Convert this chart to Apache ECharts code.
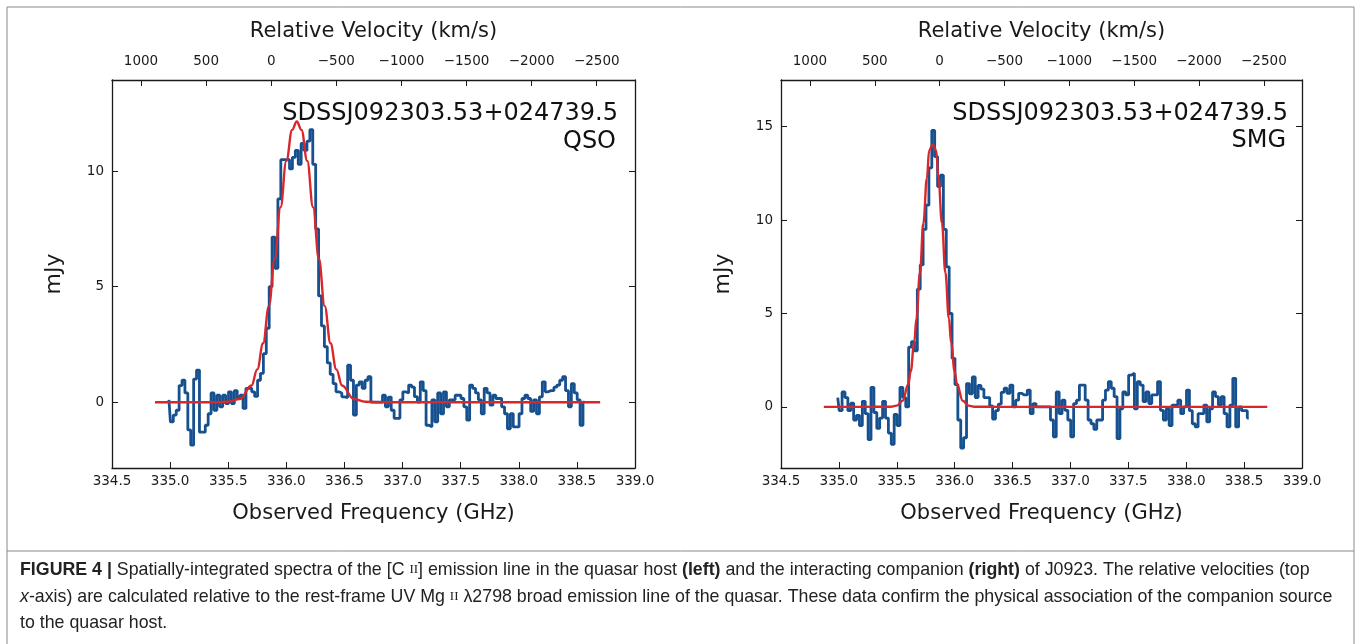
<!DOCTYPE html>
<html>
<head>
<meta charset="utf-8">
<script src="https://cdn.jsdelivr.net/npm/echarts@6/dist/echarts.min.js"></script>
<style>
  html, body { margin: 0; padding: 0; background: #fff; }
  #container { width: 1360px; height: 644px; }
</style>
</head>
<body>
<div id="container"></div>
<script>
// rest frequency of the velocity zero point (GHz) and speed of light (km/s)
const f0 = 335.87;
const cLight = 299792.458;

// channel grid of the spectra
const chanStart = 334.99;
const chanWidth = 0.025;

// QSO spectrum (mJy)
const qsoFlux = [
  0.1, -0.85, -0.56, -0.35, 0.72, 0.95, 0.4, -1.2, -1.86, 1.0,
  1.39, -1.3, -1.3, -1.0, -0.5, 0.4, -0.35, 0.3, -0.2, 0.3,
  -0.06, 0.45, -0.06, 0.5, 0.16, 0.3, -0.27, 0.6, 0.6, 0.45,
  0.25, 0.95, 1.25, 2.1, 3.2, 5.0, 7.15, 5.8, 8.8, 10.5,
  10.5, 10.5, 10.1, 10.6, 10.9, 10.3, 11.2, 10.9, 11.3, 11.8,
  10.3, 7.5, 4.6, 3.3, 2.4, 1.7, 1.2, 0.8, 0.45, 0.4,
  0.23, 0.2, 1.6, 0.95, -0.56, 0.74, 0.88, 0.6, 0.95, 1.1,
  0, 0, 0, 0, 0.3, -0.2, 0.22, -0.35, -0.7, -0.7,
  0.1, 0.45, 0.4, 0.74, 0.65, 0.24, 0, 0.88, 0.5, -1.0,
  -1.07, 0.1, -0.85, 0.4, -0.5, 0.45, -0.2, 0.1, 0.1, 0.3,
  0.3, 0.16, -0.2, -0.78, 0.74, 0.6, 0.4, 0.1, -0.5, 0.6,
  0.4, -0.13, 0.3, 0.16, 0.16, -0.2, -0.5, -1.15, -0.5, -1.07,
  -1.07, -0.5, 0.16, 0.3, 0.16, -0.4, 0.1, -0.5, 0.23, 0.88,
  0.45, 0.5, 0.5, 0.65, 0.74, 0.95, 1.1, 0.5, -0.2, 0.8,
  0.4, 0.1, -1.0, 0.0
];

// SMG spectrum (mJy)
const smgFlux = [
  0.5, -0.2, 0.8, 0.5, -0.2, 0.2, -0.7, -0.45, -1.0, 0.3,
  -0.36, -1.75, 1.05, -0.3, -1.15, -0.6, 0.3, -0.6, -1.4, -2.0,
  -0.4, -1.0, 1.05, 0.5, 0.0, 3.2, 3.5, 3.0, 6.3, 7.6,
  9.5, 10.8, 12.8, 14.8, 13.4, 11.8, 12.4, 9.5, 7.5, 5.0,
  2.6, 1.2, -0.7, -2.2, -1.65, 1.25, 0.7, 1.6, 0.5, 1.15,
  0.95, 0.5, 0.5, 0.05, -0.65, -0.2, 0.15, 0.78, 1.0, 0.73,
  1.17, 0.0, 0.36, 0.73, 0.64, 0.64, 0.9, -0.36, 0.18, 0,
  0, 0, 0, 0, -0.7, -1.6, 0.8, -0.36, 0.36, -0.18,
  -0.7, -1.6, 0.18, 0.36, 1.17, 1.17, 0.36, -0.7, -0.9, -1.2,
  -0.7, -0.7, 0.36, 0.9, 1.35, 1.0, 0.55, -1.7, -0.1, 0.8,
  0.64, 1.7, 1.8, -0.1, 1.35, 1.17, 0.29, 0.8, 0.18, 0.64,
  0.64, 1.35, -0.18, -0.7, -0.1, -1.0, 0.1, 0.1, 0.36, -0.36,
  0, 0.9, -0.2, -0.9, -1.07, -0.36, -0.36, 0.1, -0.8, -0.1,
  0.8, 0.55, 0.1, 0.55, -0.36, -1.07, 0.1, 1.53, -1.07, 0,
  -0.2, -0.2, -0.6
];

// gaussian fits
const fitFreqQso = [334.87, 335.2, 335.4, 335.5, 335.6, 335.7, 335.75, 335.8, 335.85, 335.9,
  335.95, 336.0, 336.05, 336.09, 336.13, 336.18, 336.23, 336.28, 336.33, 336.38,
  336.43, 336.48, 336.58, 336.68, 336.8, 337.0, 338.7];
const fitFluxQso = [0, 0, 0, 0.02, 0.14, 0.72, 1.42, 2.55, 4.16, 6.21,
  8.44, 10.45, 11.79, 12.15, 11.79, 10.45, 8.44, 6.21, 4.16, 2.55,
  1.42, 0.72, 0.14, 0.02, 0, 0, 0];

const fitFreqSmg = [334.87, 335.2, 335.45, 335.5, 335.55, 335.6, 335.62, 335.65, 335.67, 335.7,
  335.73, 335.76, 335.78, 335.81, 335.84, 335.86, 335.89, 335.92, 335.95, 335.97,
  336.0, 336.02, 336.07, 336.12, 336.17, 336.4, 338.7];
const fitFluxSmg = [0, 0, 0.01, 0.07, 0.33, 1.22, 1.9, 3.41, 4.74, 7.19,
  9.85, 12.24, 13.74, 14.05, 13.74, 12.24, 9.85, 7.19, 4.74, 3.41,
  1.9, 1.22, 0.33, 0.07, 0.01, 0, 0];

// ticks
const velTicks = [1000, 500, 0, -500, -1000, -1500, -2000, -2500];
const yTicksQso = [0, 5, 10];
const yTicksSmg = [0, 5, 10, 15];

const FONT = 'DejaVu Sans';
const INK = '#1a1a1a';
const BLUE = '#16508f';
const RED = '#d8282b';

const velFreqs = velTicks.map(v => f0 * (1 - v / cLight));
const minus = s => String(s).replace('-', '\u2212');
const velFromFreq = f => Math.round(cLight * (1 - f / f0) / 100) * 100;

const frameLine = { show: true, onZero: false, lineStyle: { color: INK, width: 1.3 } };

function xAxes(gi) {
  return [{
    gridIndex: gi, type: 'value', position: 'bottom',
    min: 334.5, max: 339.0, interval: 0.5,
    name: 'Observed Frequency (GHz)', nameLocation: 'middle', nameGap: 35,
    nameTextStyle: { fontFamily: FONT, fontSize: 21, color: INK },
    axisLine: frameLine,
    axisTick: { inside: true, length: 6, lineStyle: { color: INK } },
    axisLabel: { fontFamily: FONT, fontSize: 13.5, color: INK, margin: 6,
      formatter: v => v.toFixed(1) },
    splitLine: { show: false }
  }, {
    gridIndex: gi, type: 'value', position: 'top',
    min: 334.5, max: 339.0,
    name: 'Relative Velocity (km/s)', nameLocation: 'middle', nameGap: 38,
    nameTextStyle: { fontFamily: FONT, fontSize: 21, color: INK },
    axisLine: frameLine,
    axisTick: { inside: true, length: 6, lineStyle: { color: INK }, customValues: velFreqs },
    axisLabel: { fontFamily: FONT, fontSize: 13.5, color: INK, margin: 12,
      customValues: velFreqs, formatter: f => minus(velFromFreq(f)) },
    splitLine: { show: false }
  }];
}

function yAxes(gi, lo, hi, ticks) {
  return [{
    gridIndex: gi, type: 'value', position: 'left', min: lo, max: hi,
    name: 'mJy', nameLocation: 'middle', nameGap: 47,
    nameTextStyle: { fontFamily: FONT, fontSize: 22, color: INK },
    axisLine: frameLine,
    axisTick: { show: true, inside: true, length: 6, lineStyle: { color: INK }, customValues: ticks },
    axisLabel: { fontFamily: FONT, fontSize: 13.5, color: INK, margin: 8, customValues: ticks },
    splitLine: { show: false }
  }, {
    gridIndex: gi, type: 'value', position: 'right', min: lo, max: hi,
    axisLine: frameLine,
    axisTick: { show: true, inside: true, length: 6, lineStyle: { color: INK }, customValues: ticks },
    axisLabel: { show: false },
    splitLine: { show: false }
  }];
}

const spec = arr => arr.map((v, i) => [+(chanStart + i * chanWidth).toFixed(4), v]);
const pairs = (xs, ys) => xs.map((x, i) => [x, ys[i]]);

const chart = echarts.init(document.getElementById('container'));

const CAP = 17.8;
const captionRich = {
  b: { fontWeight: 'bold', fontFamily: 'Liberation Sans', fontSize: CAP, fill: '#222' },
  i: { fontStyle: 'italic', fontFamily: 'Liberation Sans', fontSize: CAP, fill: '#222' },
  s: { fontFamily: 'Liberation Serif', fontSize: 13, fill: '#222' }
};

chart.setOption({
  animation: false,
  backgroundColor: '#fff',
  grid: [
    { left: 112, top: 80, width: 523, height: 388 },
    { left: 781, top: 80, width: 521, height: 388 }
  ],
  xAxis: [...xAxes(0), ...xAxes(1)],
  yAxis: [...yAxes(0, -2.85, 13.95, yTicksQso), ...yAxes(1, -3.27, 17.5, yTicksSmg)],
  series: [
    { name: 'QSO', type: 'line', step: 'middle', xAxisIndex: 0, yAxisIndex: 0,
      showSymbol: false, lineStyle: { color: BLUE, width: 2.8 }, data: spec(qsoFlux) },
    { name: 'QSO fit', type: 'line', smooth: 0.4, smoothMonotone: 'x', xAxisIndex: 0, yAxisIndex: 0,
      showSymbol: false, lineStyle: { color: RED, width: 2.4 }, data: pairs(fitFreqQso, fitFluxQso) },
    { name: 'SMG', type: 'line', step: 'middle', xAxisIndex: 2, yAxisIndex: 2,
      showSymbol: false, lineStyle: { color: BLUE, width: 2.8 }, data: spec(smgFlux) },
    { name: 'SMG fit', type: 'line', smooth: 0.4, smoothMonotone: 'x', xAxisIndex: 2, yAxisIndex: 2,
      showSymbol: false, lineStyle: { color: RED, width: 2.4 }, data: pairs(fitFreqSmg, fitFluxSmg) }
  ],
  graphic: [
    { type: 'rect', shape: { x: 7, y: 7, width: 1347, height: 660 },
      style: { fill: 'none', stroke: '#8a8a8a', lineWidth: 1 }, silent: true },
    { type: 'line', shape: { x1: 7, y1: 551, x2: 1354, y2: 551 },
      style: { stroke: '#8a8a8a', lineWidth: 1 }, silent: true },
    { type: 'text', x: 618, y: 114,
      style: { text: 'SDSSJ092303.53+024739.5', align: 'right', verticalAlign: 'middle',
        fontFamily: FONT, fontSize: 24, fill: '#111' } },
    { type: 'text', x: 616, y: 142,
      style: { text: 'QSO', align: 'right', verticalAlign: 'middle',
        fontFamily: FONT, fontSize: 24, fill: '#111' } },
    { type: 'text', x: 1288, y: 114,
      style: { text: 'SDSSJ092303.53+024739.5', align: 'right', verticalAlign: 'middle',
        fontFamily: FONT, fontSize: 24, fill: '#111' } },
    { type: 'text', x: 1286, y: 141,
      style: { text: 'SMG', align: 'right', verticalAlign: 'middle',
        fontFamily: FONT, fontSize: 24, fill: '#111' } },
    { type: 'text', x: 20, y: 570,
      style: {
        text: '{b|FIGURE 4 |} Spatially-integrated spectra of the [C {s|II}] emission line in the quasar host {b|(left)} and the interacting companion {b|(right)} of J0923. The relative velocities (top',
        verticalAlign: 'middle', fontFamily: 'Liberation Sans', fontSize: CAP, fill: '#222',
        rich: captionRich } },
    { type: 'text', x: 20, y: 597,
      style: {
        text: '{i|x}-axis) are calculated relative to the rest-frame UV Mg {s|II} \u03bb2798 broad emission line of the quasar. These data confirm the physical association of the companion source',
        verticalAlign: 'middle', fontFamily: 'Liberation Sans', fontSize: CAP, fill: '#222',
        rich: captionRich } },
    { type: 'text', x: 20, y: 623,
      style: { text: 'to the quasar host.', verticalAlign: 'middle',
        fontFamily: 'Liberation Sans', fontSize: CAP, fill: '#222' } }
  ]
});
</script>
</body>
</html>
